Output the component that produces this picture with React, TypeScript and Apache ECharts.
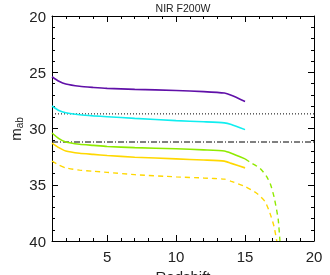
import React, { useEffect, useRef } from "react";
import * as echarts from "echarts";

const zSolid = [1, 1.5, 2, 3, 4, 5, 7, 10, 12, 13.5, 14, 15];
const purple = [25.4, 25.8, 26.05, 26.25, 26.35, 26.43, 26.52, 26.62, 26.72, 26.85, 27.05, 27.6];
const cyan = [28.0, 28.4, 28.6, 28.78, 28.88, 28.95, 29.1, 29.3, 29.4, 29.5, 29.65, 30.1];
const greenSolid = [30.4, 30.9, 31.2, 31.4, 31.5, 31.6, 31.7, 31.8, 31.9, 32.0, 32.2, 32.7];
const yellowSolid = [31.3, 31.7, 32.0, 32.2, 32.3, 32.4, 32.55, 32.7, 32.8, 32.9, 33.1, 33.5];

const zGreenDash = [15, 15.5, 16.08, 16.57, 16.86, 17.1, 17.29, 17.41, 17.53];
const greenDash = [32.7, 33.1, 33.53, 34.28, 35.02, 36.06, 37.24, 38.13, 40];

const zYellowDash = [1, 1.5, 2, 3, 4, 5, 7, 10, 12, 13.5, 14, 15, 15.84, 16.45, 16.8, 17.1, 17.3];
const yellowDash = [32.9, 33.25, 33.5, 33.7, 33.8, 33.9, 34.1, 34.3, 34.4, 34.5, 34.7, 35.15, 35.75, 36.5, 37.5, 38.7, 40];

const dottedLevel = 28.7;
const dashDotLevel = 31.2;

const xMajor = [5, 10, 15, 20];
const xMinor = [2, 3, 4, 6, 7, 8, 9, 11, 12, 13, 14, 16, 17, 18, 19];

const zip = (xs: number[], ys: number[]) => xs.map((x, i) => [x, ys[i]]);

export default function App() {
  const ref = useRef<HTMLDivElement>(null);
  useEffect(() => {
    if (!ref.current) return;
    const chart = echarts.init(ref.current, undefined, { renderer: "svg" });
    const font = "Liberation Sans, Arial, sans-serif";
    const lineCol = "#000";
    const baseX = (pos: "top" | "bottom", vals: number[], len: number, labels: boolean, line: boolean) => ({
      type: "value",
      min: 1,
      max: 20,
      position: pos,
      axisLine: { show: line, onZero: false, lineStyle: { color: lineCol, width: 1 } },
      axisTick: { show: true, inside: true, length: len, customValues: vals, lineStyle: { color: lineCol } },
      axisLabel: labels
        ? { show: true, customValues: xMajor, fontSize: 15, color: "#222", fontFamily: font, margin: 8 }
        : { show: false },
      splitLine: { show: false },
    });
    const baseY = (pos: "left" | "right", labels: boolean) => ({
      type: "value",
      min: 20,
      max: 40,
      interval: 5,
      inverse: true,
      position: pos,
      axisLine: { show: true, onZero: false, lineStyle: { color: lineCol, width: 1 } },
      axisTick: { show: true, inside: true, length: 6, lineStyle: { color: lineCol } },
      minorTick: { show: true, splitNumber: 5, length: 3, lineStyle: { color: lineCol } },
      axisLabel: labels
        ? { show: true, fontSize: 15, color: "#222", fontFamily: font, margin: 6 }
        : { show: false },
      splitLine: { show: false },
    });
    const lineSeries = (data: number[][], color: string, type: any, width: number) => ({
      type: "line",
      data,
      showSymbol: false,
      symbol: "none",
      smooth: 0.2,
      lineStyle: { color, width, type },
      xAxisIndex: 0,
      yAxisIndex: 0,
      z: 3,
    });
    chart.setOption({
      animation: false,
      grid: { left: 52, right: 16, top: 16, bottom: 34 },
      xAxis: [
        baseX("bottom", xMajor, 6, true, true),
        baseX("bottom", xMinor, 3, false, false),
        baseX("top", xMajor, 6, false, true),
        baseX("top", xMinor, 3, false, false),
      ],
      yAxis: [baseY("left", true), baseY("right", false)],
      series: [
        lineSeries(zip(zSolid, purple), "#6010a8", "solid", 1.6),
        lineSeries(zip(zSolid, cyan), "#10eef0", "solid", 1.6),
        lineSeries(zip(zSolid, greenSolid), "#90ea00", "solid", 1.6),
        lineSeries(zip(zSolid, yellowSolid), "#ffd800", "solid", 1.6),
        lineSeries(zip(zGreenDash, greenDash), "#90ea00", [5, 4], 1.4),
        lineSeries(zip(zYellowDash, yellowDash), "#ffd800", [5, 4], 1.4),
        {
          type: "line",
          data: [[1, dottedLevel], [20, dottedLevel]],
          showSymbol: false,
          symbol: "none",
          lineStyle: { color: "#000", width: 1, type: [1, 2] },
          z: 2,
        },
        {
          type: "line",
          data: [[1, dashDotLevel], [20, dashDotLevel]],
          showSymbol: false,
          symbol: "none",
          lineStyle: { color: "#000", width: 1, type: [6, 2, 1, 2] },
          z: 2,
        },
      ],
      graphic: [
        {
          type: "text",
          x: 183,
          y: 8,
          style: {
            text: "NIR F200W",
            fontSize: 10.5,
            fontFamily: font,
            fill: "#222",
            align: "center",
            verticalAlign: "middle",
          },
        },
        {
          type: "text",
          x: 183,
          y: 269,
          style: {
            text: "Redshift",
            fontSize: 15,
            fontFamily: font,
            fill: "#222",
            align: "center",
            verticalAlign: "top",
          },
        },
        {
          type: "text",
          x: 15,
          y: 129,
          rotation: Math.PI / 2,
          style: {
            text: "{m|m}{s|ab}",
            align: "center",
            verticalAlign: "middle",
            rich: {
              m: { fontSize: 15, fontFamily: font, fill: "#222" },
              s: { fontSize: 10, fontFamily: font, fill: "#222", padding: [8, 0, 0, 0] },
            },
          },
        },
      ],
    });
    return () => chart.dispose();
  }, []);
  return <div ref={ref} style={{ position: "fixed", left: 0, top: 0, width: 330, height: 275 }} />;
}
